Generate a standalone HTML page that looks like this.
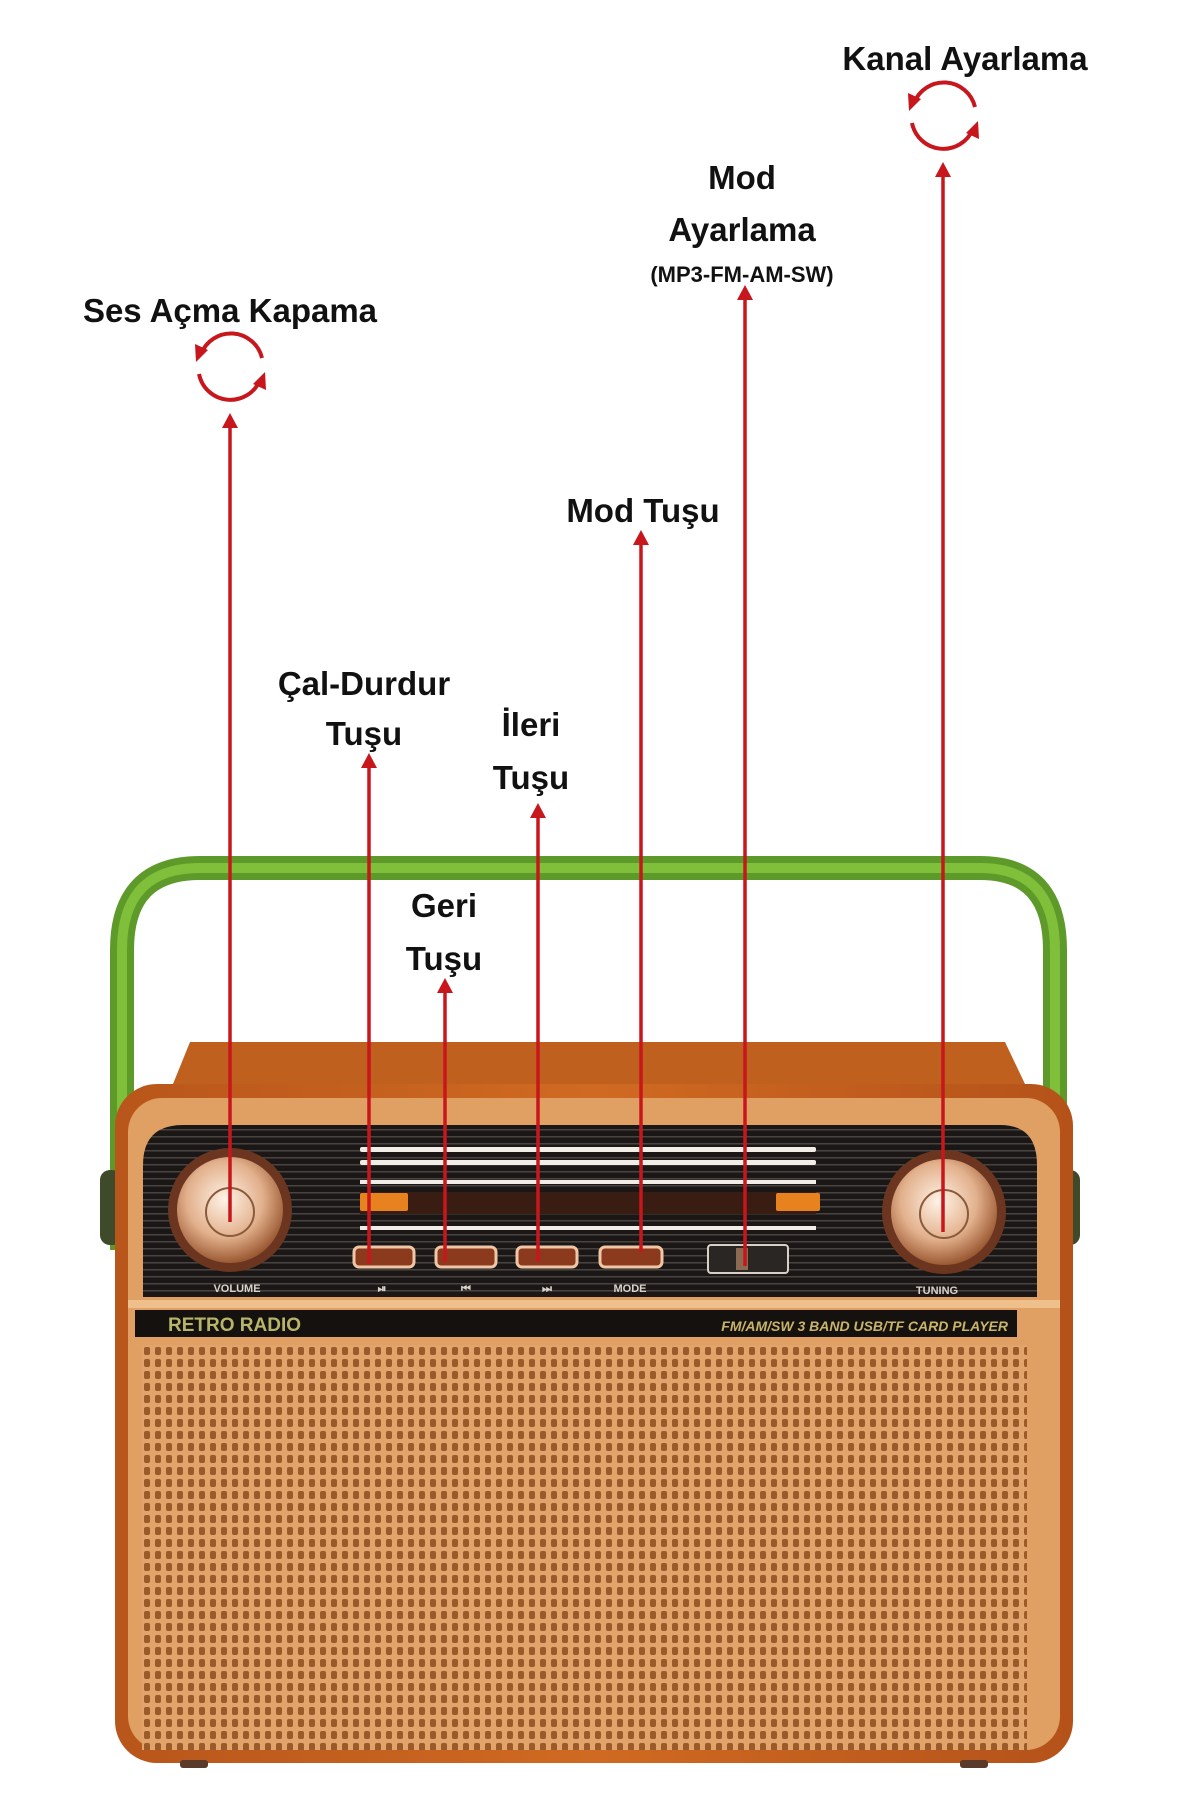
<!DOCTYPE html>
<html><head><meta charset="utf-8"><style>
html,body{margin:0;padding:0;background:#fff;}
body{width:1200px;height:1800px;position:relative;overflow:hidden;font-family:"Liberation Sans",sans-serif;}
</style></head><body>
<svg width="1200" height="1800" viewBox="0 0 1200 1800" xmlns="http://www.w3.org/2000/svg" style="position:absolute;left:0;top:0">
<defs>
<pattern id="grille" x="142" y="1345" width="11" height="12" patternUnits="userSpaceOnUse">
<rect width="11" height="12" fill="#e2a46a"/>
<rect x="2" y="2" width="6" height="8" rx="2" fill="#9a5a2a"/>
</pattern>
<pattern id="lines" x="0" y="1125" width="6" height="7" patternUnits="userSpaceOnUse">
<rect width="6" height="7" fill="#1a1716"/>
<rect y="4" width="6" height="1.5" fill="#4a4440"/>
</pattern>
<radialGradient id="knob" cx="45%" cy="40%" r="60%">
<stop offset="0" stop-color="#fff3e6"/><stop offset="0.6" stop-color="#e2b08c"/><stop offset="1" stop-color="#9b5a33"/>
</radialGradient>
<linearGradient id="wood" x1="0" y1="0" x2="1" y2="0">
<stop offset="0" stop-color="#b8561b"/><stop offset="0.5" stop-color="#d06a22"/><stop offset="1" stop-color="#b4521a"/>
</linearGradient>
</defs>
<!-- handle -->
<path d="M122 1250 L122 950 Q122 868 200 868 L980 868 Q1055 868 1055 950 L1055 1250" fill="none" stroke="#5e9a2a" stroke-width="24"/>
<path d="M122 1250 L122 950 Q122 868 200 868 L980 868 Q1055 868 1055 950 L1055 1250" fill="none" stroke="#7fbf3a" stroke-width="10"/>
<!-- side knobs -->
<rect x="100" y="1170" width="22" height="75" rx="10" fill="#3e4a2a"/>
<rect x="1058" y="1170" width="22" height="75" rx="10" fill="#3e4a2a"/>
<!-- top wood -->
<path d="M173 1084 L190 1042 L1005 1042 L1025 1084 Z" fill="#c0601f"/>
<!-- body -->
<rect x="115" y="1084" width="958" height="679" rx="42" fill="url(#wood)"/>
<rect x="128" y="1098" width="932" height="652" rx="34" fill="#e0a064"/>
<!-- panel -->
<path d="M143 1297 L143 1165 Q143 1125 183 1125 L1000 1125 Q1037 1125 1037 1165 L1037 1297 Z" fill="url(#lines)"/>
<!-- dial -->
<g fill="#f1ede6">
<rect x="360" y="1147" width="456" height="5" rx="2"/>
<rect x="360" y="1160" width="456" height="5" rx="2"/>
<rect x="360" y="1180" width="456" height="4"/>
<rect x="360" y="1226" width="456" height="4"/>
</g>
<rect x="360" y="1192" width="456" height="22" fill="#3a1d12"/>
<rect x="360" y="1193" width="48" height="18" rx="2" fill="#e8821e"/>
<rect x="776" y="1193" width="44" height="18" rx="2" fill="#e8821e"/>
<!-- buttons -->
<g fill="#8c3a1e" stroke="#f0c7a6" stroke-width="3">
<rect x="354" y="1247" width="60" height="20" rx="5"/>
<rect x="436" y="1247" width="60" height="20" rx="5"/>
<rect x="517" y="1247" width="60" height="20" rx="5"/>
<rect x="600" y="1247" width="62" height="20" rx="5"/>
</g>
<rect x="708" y="1245" width="80" height="28" rx="3" fill="#2a2624" stroke="#d9cfc4" stroke-width="2"/>
<rect x="736" y="1248" width="12" height="22" fill="#8a6a50"/>
<g fill="#d8d2ca" font-size="11" font-weight="bold" text-anchor="middle">
<text x="237" y="1292">VOLUME</text><text x="382" y="1292">⏯</text><text x="466" y="1292">⏮</text><text x="547" y="1292">⏭</text><text x="630" y="1292">MODE</text><text x="937" y="1294">TUNING</text>
</g>
<!-- knobs -->
<circle cx="230" cy="1210" r="62" fill="#6b3520"/>
<circle cx="230" cy="1210" r="53" fill="url(#knob)"/>
<circle cx="230" cy="1212" r="24" fill="none" stroke="#8a5a3c" stroke-width="2"/>
<circle cx="944" cy="1212" r="62" fill="#6b3520"/>
<circle cx="944" cy="1212" r="53" fill="url(#knob)"/>
<circle cx="944" cy="1214" r="24" fill="none" stroke="#8a5a3c" stroke-width="2"/>
<!-- bar -->
<rect x="128" y="1300" width="932" height="8" fill="#f0c08c"/>
<rect x="135" y="1310" width="882" height="27" fill="#14110e"/>
<text x="168" y="1331" fill="#b8b56a" font-size="19" font-weight="bold">RETRO RADIO</text>
<text x="1008" y="1331" fill="#c9b46a" font-size="14" font-weight="bold" font-style="italic" text-anchor="end">FM/AM/SW 3 BAND USB/TF CARD PLAYER</text>
<!-- grille -->
<rect x="142" y="1345" width="885" height="405" fill="url(#grille)"/>
<rect x="180" y="1760" width="28" height="8" rx="3" fill="#5a3a28"/>
<rect x="960" y="1760" width="28" height="8" rx="3" fill="#5a3a28"/>
<!-- connectors -->
<g stroke="#c8161d" stroke-width="3.5" fill="none">
<line x1="230" y1="424" x2="230" y2="1222"/>
<line x1="369" y1="764" x2="369" y2="1264"/>
<line x1="445" y1="989" x2="445" y2="1262"/>
<line x1="538" y1="814" x2="538" y2="1262"/>
<line x1="641" y1="541" x2="641" y2="1252"/>
<line x1="745" y1="296" x2="745" y2="1266"/>
<line x1="943" y1="173" x2="943" y2="1232"/>
</g>
<g fill="#c8161d">
<path d="M222 428 L230 413 L238 428 Z"/>
<path d="M361 768 L369 753 L377 768 Z"/>
<path d="M437 993 L445 978 L453 993 Z"/>
<path d="M530 818 L538 803 L546 818 Z"/>
<path d="M633 545 L641 530 L649 545 Z"/>
<path d="M737 300 L745 285 L753 300 Z"/>
<path d="M935 177 L943 162 L951 177 Z"/>
</g>
<!-- cycle icons -->
<g id="cyc" fill="none" stroke="#c8161d" stroke-width="4">
<path d="M201 354 A32 32 0 0 1 262 358"/>
<path d="M260 380 A32 32 0 0 1 199 374"/>
</g>
<g fill="#c8161d">
<path d="M195 344 L208 350 L196 362 Z"/>
<path d="M266 390 L253 384 L265 372 Z"/>
</g>
<g fill="none" stroke="#c8161d" stroke-width="4">
<path d="M914 103 A32 32 0 0 1 975 107"/>
<path d="M973 129 A32 32 0 0 1 912 123"/>
</g>
<g fill="#c8161d">
<path d="M908 93 L921 99 L909 111 Z"/>
<path d="M979 139 L966 133 L978 121 Z"/>
</g>
<!-- labels -->
<g fill="#111" font-size="33" text-anchor="middle" font-weight="bold">
<text x="965" y="70">Kanal Ayarlama</text>
<text x="742" y="189">Mod</text>
<text x="742" y="241">Ayarlama</text>
<text x="742" y="282" font-size="22">(MP3-FM-AM-SW)</text>
<text x="230" y="322">Ses Açma Kapama</text>
<text x="643" y="522">Mod Tuşu</text>
<text x="364" y="695">Çal-Durdur</text>
<text x="364" y="745">Tuşu</text>
<text x="531" y="736">İleri</text>
<text x="531" y="789">Tuşu</text>
<text x="444" y="917">Geri</text>
<text x="444" y="970">Tuşu</text>
</g>
</svg>
</body></html>
